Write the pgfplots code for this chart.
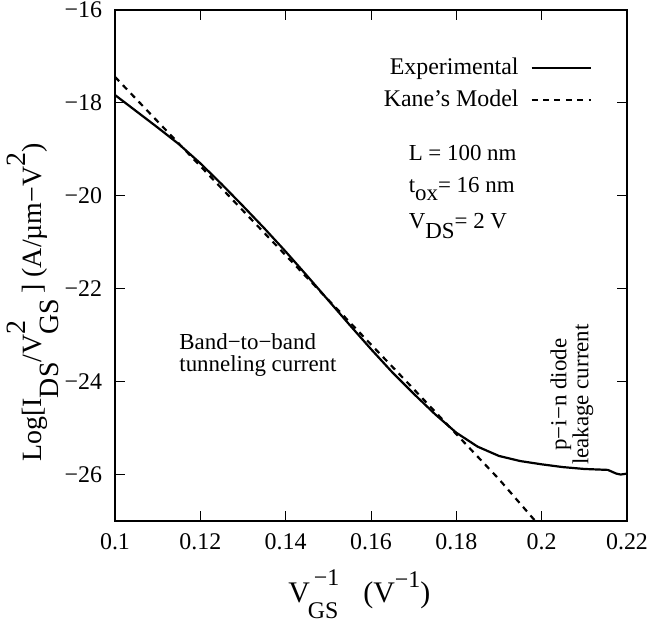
\documentclass[border=0pt]{standalone}
\usepackage{fontspec}
\setmainfont{Liberation Serif}
\usepackage{pgfplots}
\pgfplotsset{compat=1.18}
\begin{document}
\begin{tikzpicture}
\useasboundingbox (-57.5bp,-51bp) rectangle (267bp,260.5bp);
\begin{axis}[
  at={(0,0)}, anchor=south west,
  scale only axis, width=256bp, height=255.5bp,
  xmin=0.1, xmax=0.22, ymin=-27, ymax=-16,
  xtick={0.1,0.12,0.14,0.16,0.18,0.2,0.22},
  xticklabels={0.1,0.12,0.14,0.16,0.18,0.2,0.22},
  ytick={-26,-24,-22,-20,-18,-16},
  yticklabels={−26,−24,−22,−20,−18,−16},
  tick align=inside, major tick length=5bp,
  tick style={black, line width=0.5bp},
  axis line style={line width=0.6bp},
  ticklabel style={font=\fontsize{12}{14}\selectfont},
  yticklabel style={xshift=-3bp},
  xticklabel style={yshift=-3bp},
  clip mode=individual,
  legend style={draw=none, fill=none, at={(rel axis cs:0.932,0.91)}, anchor=north east,
    font=\fontsize{12}{14}\selectfont, row sep=4bp, inner sep=0pt,
    nodes={inner sep=1pt}},
  legend cell align=right,
  legend plot pos=right,
  legend image code/.code={\draw[#1] (0bp,0bp) -- (29.5bp,0bp);},
]
\addplot[black, line width=1.1bp] coordinates {
(0.100,-17.83) (0.105,-18.18) (0.110,-18.53) (0.115,-18.89) (0.120,-19.30)
(0.125,-19.75) (0.130,-20.22) (0.135,-20.70) (0.140,-21.20) (0.145,-21.72)
(0.150,-22.25) (0.155,-22.78) (0.160,-23.30) (0.165,-23.80) (0.170,-24.26)
(0.175,-24.70) (0.180,-25.10) (0.185,-25.40) (0.190,-25.60) (0.195,-25.71)
(0.200,-25.78) (0.205,-25.84) (0.210,-25.88) (0.2155,-25.90) (0.2175,-25.98)
(0.2185,-26.00) (0.220,-25.98)
};
\addlegendentry{Experimental\rule{5bp}{0pt}}
\addplot[black, line width=1.1bp, dash pattern=on 3bp off 2.7bp] coordinates {
(0.100,-17.44) (0.110,-18.40) (0.120,-19.36) (0.130,-20.32) (0.140,-21.28)
(0.150,-22.24) (0.160,-23.20) (0.170,-24.16) (0.180,-25.13) (0.190,-26.10)
(0.1985,-27.00) (0.1995,-27.12)
};
\addlegendentry{Kane’s Model\rule{5bp}{0pt}}
\node[anchor=west, font=\fontsize{11.5}{13}\selectfont] at (axis cs:0.1672,-19.08) {L = 100 nm};
\node[anchor=west, font=\fontsize{11.5}{13}\selectfont] at (axis cs:0.1672,-19.86) {t\raisebox{-4bp}{ox}= 16 nm};
\node[anchor=west, font=\fontsize{11.5}{13}\selectfont] at (axis cs:0.1672,-20.66) {V\raisebox{-5bp}{DS}= 2 V};
\node[anchor=west, align=left, font=\fontsize{11.5}{11}\selectfont, inner sep=0pt] at (axis cs:0.1150,-23.43) {Band−to−band\\tunneling current};
\node[rotate=90, align=center, font=\fontsize{11.5}{11}\selectfont, inner sep=0pt] at (axis cs:0.2071,-24.28) {p−i−n diode\\leakage current};
\end{axis}
\node[rotate=90, anchor=base west, font=\fontsize{14}{16}\selectfont, inner sep=0pt] at (-36.7bp,29.5bp)
  {Log[I\raisebox{-8.5bp}{DS}/V\rlap{\raisebox{-8.5bp}{GS}}\raisebox{8bp}{2}\hspace{10bp} ] (A/µm−V\raisebox{8bp}{2})};
\node[anchor=base west, font=\fontsize{15}{17}\selectfont, inner sep=0pt] at (86.5bp,-40.5bp)
  {V\hspace{-1bp}\rlap{\raisebox{-8bp}{\fontsize{12}{14}\selectfont GS}}\hspace{3bp}\raisebox{8.3bp}{\fontsize{12}{14}\selectfont −1}\hspace{12bp}(V\raisebox{7.5bp}{\fontsize{12}{14}\selectfont −1})};
\end{tikzpicture}
\end{document}
